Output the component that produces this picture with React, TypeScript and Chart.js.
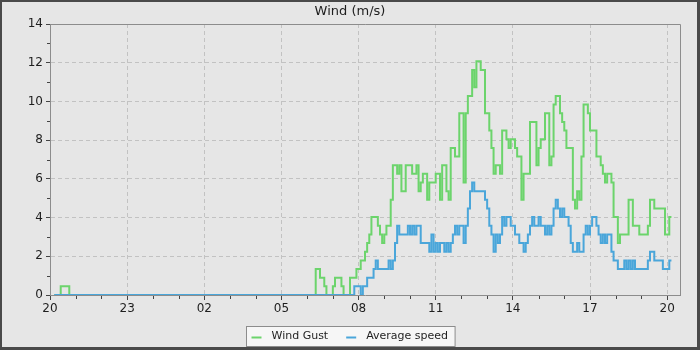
import React, { useEffect, useRef } from "react";
import { Chart, registerables } from "chart.js";

Chart.register(...registerables);

const TITLE = "Wind (m/s)";
const SERIES_NAMES = ["Wind Gust", "Average speed"];
const START_MINUTE = 10; // first sample at 20:10
const STEP_MINUTES = 5;
const MPH_TO_MS = 0.44704;

// Wind gust (mph units as recorded), 5-minute samples from 20:10
const gustMph = [
  0, 0, 0, 0, 1, 1, 1, 1, 0, 0,
  0, 0, 0, 0, 0, 0, 0, 0, 0, 0, 0, 0,
  0, 0, 0, 0, 0, 0, 0, 0, 0, 0, 0, 0,
  0, 0, 0, 0, 0, 0, 0, 0, 0, 0, 0, 0,
  0, 0, 0, 0, 0, 0, 0, 0, 0, 0, 0, 0,
  0, 0, 0, 0, 0, 0, 0, 0, 0, 0, 0, 0,
  0, 0, 0, 0, 0, 0, 0, 0, 0, 0, 0, 0,
  0, 0, 0, 0, 0, 0, 0, 0, 0, 0, 0, 0,
  0, 0, 0, 0, 0, 0, 0, 0, 0, 0, 0, 0,
  0, 0, 0, 0, 0, 0, 0, 0, 0, 0, 0, 0,
  0, 0, 0, 0, 0, 3, 3, 2, 2, 1, 0, 0,
  0, 1, 2, 2, 2, 1, 0, 0, 0, 2, 2, 2,
  3, 3, 4, 4, 5, 6, 7, 9, 9, 9, 8, 7,
  6, 7, 8, 8, 11, 15, 15, 14, 15, 12, 12, 15,
  15, 15, 14, 14, 15, 12, 13, 14, 14, 11, 13, 13,
  13, 14, 14, 11, 15, 15, 12, 11, 17, 17, 16, 16,
  21, 21, 13, 21, 23, 23, 26, 24, 27, 27, 26, 26,
  21, 21, 19, 17, 14, 15, 15, 14, 19, 19, 18, 17,
  18, 18, 17, 16, 16, 11, 14, 14, 14, 20, 20, 20,
  15, 17, 18, 18, 21, 21, 15, 16, 22, 23, 23, 21,
  20, 19, 17, 17, 17, 11, 10, 12, 11, 16, 22, 22,
  21, 19, 19, 19, 16, 16, 15, 14, 13, 14, 14, 13,
  9, 9, 6, 7, 7, 7, 7, 11, 11, 8, 8, 8,
  7, 7, 7, 7, 8, 11, 11, 10, 10, 10, 10, 10,
  7, 7, 9,
];

// Average speed (mph units as recorded), 5-minute samples from 20:10
const avgMph = [
  0, 0, 0, 0, 0, 0, 0, 0, 0, 0,
  0, 0, 0, 0, 0, 0, 0, 0, 0, 0, 0, 0,
  0, 0, 0, 0, 0, 0, 0, 0, 0, 0, 0, 0,
  0, 0, 0, 0, 0, 0, 0, 0, 0, 0, 0, 0,
  0, 0, 0, 0, 0, 0, 0, 0, 0, 0, 0, 0,
  0, 0, 0, 0, 0, 0, 0, 0, 0, 0, 0, 0,
  0, 0, 0, 0, 0, 0, 0, 0, 0, 0, 0, 0,
  0, 0, 0, 0, 0, 0, 0, 0, 0, 0, 0, 0,
  0, 0, 0, 0, 0, 0, 0, 0, 0, 0, 0, 0,
  0, 0, 0, 0, 0, 0, 0, 0, 0, 0, 0, 0,
  0, 0, 0, 0, 0, 0, 0, 0, 0, 0, 0, 0,
  0, 0, 0, 0, 0, 0, 0, 0, 0, 0, 0, 1,
  1, 1, 0, 1, 1, 2, 2, 2, 3, 4, 3, 3,
  3, 3, 3, 4, 3, 4, 6, 8, 7, 7, 7, 7,
  8, 7, 8, 7, 8, 8, 6, 6, 6, 6, 5, 7,
  5, 6, 5, 6, 6, 5, 6, 5, 6, 7, 8, 7,
  8, 8, 6, 8, 10, 12, 13, 12, 12, 12, 12, 12,
  11, 10, 8, 7, 5, 7, 6, 7, 9, 8, 9, 9,
  8, 8, 7, 7, 6, 6, 5, 6, 7, 8, 9, 8,
  8, 9, 8, 8, 7, 8, 7, 8, 10, 11, 10, 9,
  10, 9, 9, 8, 6, 5, 5, 6, 5, 5, 7, 8,
  7, 8, 9, 9, 8, 7, 6, 7, 6, 7, 7, 5,
  4, 4, 3, 3, 3, 4, 3, 4, 3, 4, 3, 3,
  3, 3, 3, 3, 4, 5, 5, 4, 4, 4, 4, 3,
  3, 3, 4,
];

const X_MIN = 0; // minutes after 20:00
const X_MAX = 1470;
const START_HOUR = 20;
const Y_MAX = 14;

const GUST_COLOR = "#6cd46c";
const AVG_COLOR = "#4aa6da";
const FONT = '"DejaVu Sans", "Liberation Sans", sans-serif';

function hourLabel(v: number): string {
  const h = (START_HOUR + Math.round(v / 60)) % 24;
  return String(h).padStart(2, "0");
}

const decorPlugin = {
  id: "decor",
  beforeDraw(chart: any) {
    const { ctx, width, height } = chart;
    ctx.save();
    ctx.fillStyle = "#4a4a4a";
    ctx.fillRect(0, 0, width, height);
    ctx.fillStyle = "#e6e6e6";
    ctx.fillRect(2, 2, width - 5, height - 5);
    ctx.fillStyle = "#1e1e1e";
    ctx.font = "13px " + FONT;
    ctx.textAlign = "center";
    ctx.textBaseline = "middle";
    ctx.fillText(TITLE, width / 2, 12);
    ctx.restore();
  },
  afterDraw(chart: any) {
    const { ctx, width } = chart;
    const { left, right, top, bottom } = chart.chartArea;
    const xs = chart.scales.x;
    const ys = chart.scales.y;
    ctx.save();
    // plot frame top/right
    ctx.strokeStyle = "#8c8c8c";
    ctx.lineWidth = 1;
    ctx.beginPath();
    ctx.moveTo(left, top + 0.5);
    ctx.lineTo(right + 0.5, top + 0.5);
    ctx.lineTo(right + 0.5, bottom);
    ctx.stroke();
    // minor ticks
    ctx.strokeStyle = "#444";
    ctx.beginPath();
    xs.ticks.forEach((t: any) => {
      if (t.value % 180 !== 0) {
        const px = Math.round(xs.getPixelForValue(t.value)) + 0.5;
        ctx.moveTo(px, bottom + 1);
        ctx.lineTo(px, bottom + 4);
      }
    });
    ys.ticks.forEach((t: any) => {
      if (t.value % 2 !== 0) {
        const py = Math.round(ys.getPixelForValue(t.value)) + 0.5;
        ctx.moveTo(left - 3, py);
        ctx.lineTo(left, py);
      }
    });
    ctx.stroke();
    // legend
    ctx.font = "11px " + FONT;
    const markerW = 10;
    const gapMarker = 10;
    const gapItems = 18;
    const padX = 5;
    const w0 = ctx.measureText(SERIES_NAMES[0]).width;
    const w1 = ctx.measureText(SERIES_NAMES[1]).width;
    const total = padX + markerW + gapMarker + w0 + gapItems + markerW + gapMarker + w1 + padX + 2;
    const bx = Math.round(width / 2 - total / 2) + 0.5;
    const by = 326.5;
    const bh = 20;
    ctx.fillStyle = "#f6f6f6";
    ctx.fillRect(bx, by, total, bh);
    ctx.strokeStyle = "#8c8c8c";
    ctx.strokeRect(bx, by, total, bh);
    const cy = by + bh / 2 + 1;
    let x = bx + padX;
    const colors = [GUST_COLOR, AVG_COLOR];
    const widths = [w0, w1];
    for (let k = 0; k < 2; k++) {
      ctx.strokeStyle = colors[k];
      ctx.lineWidth = 2;
      ctx.beginPath();
      ctx.moveTo(x, cy);
      ctx.lineTo(x + markerW, cy);
      ctx.stroke();
      x += markerW + gapMarker;
      ctx.fillStyle = "#1e1e1e";
      ctx.textAlign = "left";
      ctx.textBaseline = "middle";
      ctx.fillText(SERIES_NAMES[k], x, cy - 1);
      x += widths[k] + gapItems;
    }
    ctx.restore();
  },
};

export default function App() {
  const canvasRef = useRef<HTMLCanvasElement | null>(null);

  useEffect(() => {
    document.body.style.margin = "0";
    const canvas = canvasRef.current;
    if (!canvas) return;
    const toPoints = (arr: number[]) =>
      arr.map((v, i) => ({ x: START_MINUTE + i * STEP_MINUTES, y: v * MPH_TO_MS }));

    const chart = new Chart(canvas, {
      type: "line",
      data: {
        datasets: [
          {
            label: SERIES_NAMES[0],
            data: toPoints(gustMph),
            borderColor: GUST_COLOR,
            backgroundColor: GUST_COLOR,
            borderWidth: 2,
            pointRadius: 0,
            stepped: "after",
            fill: false,
            order: 1,
          },
          {
            label: SERIES_NAMES[1],
            data: toPoints(avgMph),
            borderColor: AVG_COLOR,
            backgroundColor: AVG_COLOR,
            borderWidth: 2,
            pointRadius: 0,
            stepped: "after",
            fill: false,
            order: 0,
          },
        ],
      },
      options: {
        animation: false,
        responsive: false,
        events: [],
        parsing: false as any,
        layout: { padding: { top: 24, right: 20, bottom: 35, left: 0 } },
        plugins: {
          legend: { display: false },
          title: { display: false },
          tooltip: { enabled: false },
        },
        scales: {
          x: {
            type: "linear",
            min: X_MIN,
            max: X_MAX,
            ticks: {
              stepSize: 60,
              includeBounds: false,
              autoSkip: false,
              maxRotation: 0,
              padding: 2,
              color: "#1e1e1e",
              font: { family: FONT, size: 12 },
              callback: (v: any) => (Number(v) % 180 === 0 ? hourLabel(Number(v)) : ""),
            },
            grid: {
              color: (c: any) =>
                c.tick && c.tick.value % 180 === 0 && c.tick.value > X_MIN ? "#c2c2c2" : "rgba(0,0,0,0)",
              tickColor: (c: any) =>
                c.tick && c.tick.value % 180 === 0 ? "#444" : "rgba(0,0,0,0)",
              tickLength: 5,
              tickBorderDash: [],
              lineWidth: 1,
            },
            border: { color: "#8c8c8c", dash: [4, 3], width: 1 },
            afterFit: (s: any) => {
              s.height = 20;
            },
          } as any,
          y: {
            type: "linear",
            min: 0,
            max: Y_MAX,
            ticks: {
              stepSize: 1,
              autoSkip: false,
              padding: 3,
              color: "#1e1e1e",
              font: { family: FONT, size: 12 },
              callback: (v: any) => (Number(v) % 2 === 0 ? String(v) : ""),
            },
            grid: {
              color: (c: any) =>
                c.tick && c.tick.value % 2 === 0 && c.tick.value > 0 && c.tick.value < Y_MAX
                  ? "#c2c2c2"
                  : "rgba(0,0,0,0)",
              tickColor: (c: any) =>
                c.tick && c.tick.value % 2 === 0 ? "#444" : "rgba(0,0,0,0)",
              tickLength: 4,
              tickBorderDash: [],
              lineWidth: 1,
            },
            border: { color: "#8c8c8c", dash: [4, 3], width: 1 },
            afterFit: (s: any) => {
              s.width = 50;
            },
          } as any,
        },
      },
      plugins: [decorPlugin],
    });
    return () => chart.destroy();
  }, []);

  return (
    <div style={{ width: 700, height: 350 }}>
      <canvas ref={canvasRef} width={700} height={350} style={{ display: "block" }} />
    </div>
  );
}
